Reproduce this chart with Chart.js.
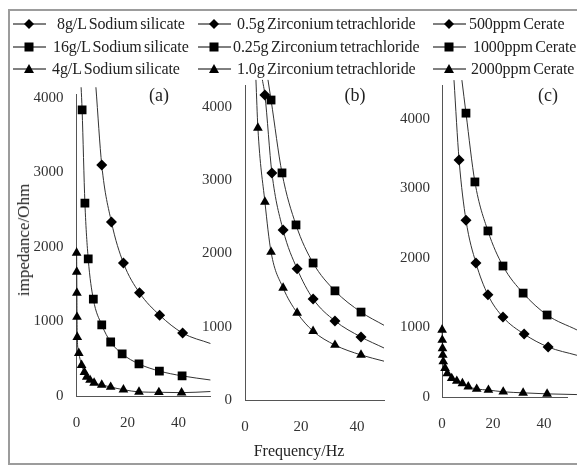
<!DOCTYPE html>
<html>
<head>
<meta charset="utf-8">
<script src="https://cdn.jsdelivr.net/npm/chart.js@4.4.0/dist/chart.umd.min.js"></script>
<style>
	html, body { margin: 0; padding: 0; background: #fff; }
	body { width: 577px; height: 466px; position: relative; overflow: hidden; font-family: 'Liberation Serif', 'Times New Roman', serif; color: #222; }
	canvas { position: absolute; left: 0; top: 0; }
	#frame { position: absolute; left: 8px; top: 9px; width: 600px; height: 452px; border: 2px solid #9c9c9c; }
	.lg-text { position: absolute; font-size: 16px; line-height: 20px; white-space: nowrap; word-spacing: -1.5px; letter-spacing: -0.1px; }
	.lg-sym { position: absolute; }
	.note { position: absolute; white-space: nowrap; transform: translate(-50%, -50%); }
</style>
</head>
<body>
<div id="frame"></div>
<canvas id="chart-a" width="577" height="466"></canvas>
<canvas id="chart-b" width="577" height="466"></canvas>
<canvas id="chart-c" width="577" height="466"></canvas>
<div id="legend"></div>
<div class="note" style="left:24px; top:240px; font-size:17px; transform: translate(-50%, -50%) rotate(-90deg);">impedance/Ohm</div>
<div class="note" style="left:299px; top:451px; font-size:16px;">Frequency/Hz</div>
<div class="note" style="left:159px; top:95px; font-size:18px;">(a)</div>
<div class="note" style="left:355px; top:95px; font-size:18px;">(b)</div>
<div class="note" style="left:548px; top:95px; font-size:18px;">(c)</div>
<script>
// series names (legend columns)
const silicateNames = ['8g/L Sodium silicate', '16g/L Sodium silicate', '4g/L Sodium silicate'];
const zirconiumNames = ['0.5g Zirconium tetrachloride', '0.25g Zirconium tetrachloride', '1.0g Zirconium tetrachloride'];
const cerateNames = ['500ppm Cerate', '1000ppm Cerate', '2000ppm Cerate'];

const xTicks = [0, 20, 40];
const yTicks = [0, 1000, 2000, 3000, 4000];

// (a) sodium silicate
const sil8Freq = [9.9, 13.7, 18.4, 24.7, 32.6, 41.6];
const sil8Imp = [3100, 2335, 1785, 1385, 1085, 845];
const sil16Freq = [2.2, 3.3, 4.6, 6.6, 9.9, 13.4, 17.9, 24.5, 32.5, 41.4];
const sil16Imp = [3840, 2590, 1840, 1300, 955, 725, 565, 430, 335, 270];
const sil4Freq = [0.05, 0.1, 0.15, 0.2, 0.3, 0.9, 2.0, 3.1, 4.0, 5.3, 6.9, 9.9, 13.4, 18.4, 24.5, 32.3, 41.2];
const sil4Imp = [1920, 1665, 1385, 1060, 790, 575, 415, 320, 255, 215, 175, 150, 120, 85, 55, 50, 45];
// where the fitted curves enter / leave the plot
const silFitHead = [[7.6, 4150], [1.8, 4150], [0, 2000]];
const silFitTail = [[52.5, 705], [52.5, 215], [52.5, 60]];

// (b) zirconium tetrachloride
const zr05Freq = [7.1, 9.6, 13.6, 18.6, 24.3, 32.1, 41.4];
const zr05Imp = [4165, 3100, 2320, 1790, 1380, 1080, 860];
const zr025Freq = [9.3, 13.2, 18.2, 24.3, 32.1, 41.4];
const zr025Imp = [4095, 3100, 2390, 1870, 1490, 1200];
const zr10Freq = [4.6, 7.1, 9.3, 13.6, 18.6, 24.3, 32.1, 41.4];
const zr10Imp = [3715, 2705, 2020, 1530, 1190, 940, 750, 615];
const zrFitHead = [[6.2, 4370], [8.2, 4370], [3.9, 4370]];
const zrFitTail = [[49.6, 710], [49.6, 1020], [49.6, 530]];

// (c) cerate
const ce500Freq = [6.7, 9.4, 13.3, 18.0, 23.9, 32.2, 41.6];
const ce500Imp = [3410, 2545, 1930, 1470, 1150, 905, 720];
const ce1000Freq = [9.4, 12.9, 18.0, 23.9, 31.8, 41.2];
const ce1000Imp = [4085, 3095, 2390, 1885, 1495, 1180];
const ce2000Freq = [0.05, 0.1, 0.2, 0.3, 0.5, 1.2, 2.1, 3.8, 5.8, 8.0, 10.3, 13.6, 18.2, 24.0, 31.8, 41.2];
const ce2000Imp = [965, 820, 700, 605, 510, 415, 340, 270, 230, 195, 150, 115, 100, 75, 60, 45];
const ceFitHead = [[4.7, 4560], [7.8, 4560], [0, 1040]];
const ceFitTail = [[52.9, 600], [52.9, 965], [52.9, 35]];

const FONT = "'Liberation Serif', 'Times New Roman', serif";
const Y_W = 50, X_H = 40, W = 577, H = 466;
const markerStyle = ['rectRot', 'rect', 'triangle'];
const markerSize = [5.5, 6.2, 5.6];

const toPts = (xs, ys) => xs.map((v, i) => ({ x: v, y: ys[i] }));

const makePanel = (id, box, xMax, yMax, names, xs, ys, head, tail, clip, yPad) => {
	let datasets = [];
	names.forEach((name, i) => {
		let pts = toPts(xs[i], ys[i]);
		datasets.push({
			label: name,
			data: pts,
			showLine: false,
			pointStyle: markerStyle[i],
			pointRadius: markerSize[i],
			pointBackgroundColor: '#000',
			pointBorderWidth: 0,
			clip: 10,
			order: 0
		});
		datasets.push({
			label: name + ' fit',
			data: [{ x: head[i][0], y: head[i][1] }, ...pts, { x: tail[i][0], y: tail[i][1] }],
			showLine: true,
			pointRadius: 0,
			borderColor: '#333',
			borderWidth: 1,
			cubicInterpolationMode: 'monotone',
			clip: clip,
			order: 1
		});
	});

	return new Chart(document.getElementById(id), {
		type: 'scatter',
		data: { datasets: datasets },
		options: {
			responsive: false,
			animation: false,
			devicePixelRatio: 1,
			events: [],
			layout: {
				autoPadding: false,
				padding: { left: box.l - Y_W, right: W - box.r, top: box.t, bottom: H - box.b - X_H }
			},
			plugins: { legend: { display: false }, tooltip: { enabled: false } },
			scales: {
				x: {
					type: 'linear', min: 0, max: xMax,
					afterFit: (s) => { s.height = X_H; },
					afterBuildTicks: (s) => { s.ticks = xTicks.map(v => ({ value: v })); },
					grid: { display: false, drawTicks: false },
					border: { color: '#555', width: 1 },
					ticks: { padding: 18, color: '#333', maxRotation: 0, font: { family: FONT, size: 15 }, callback: v => String(v) }
				},
				y: {
					type: 'linear', min: 0, max: yMax,
					afterFit: (s) => { s.width = Y_W; },
					afterBuildTicks: (s) => { s.ticks = yTicks.map(v => ({ value: v })); },
					grid: { display: false, drawTicks: false },
					border: { color: '#555', width: 1 },
					ticks: { padding: yPad, color: '#333', font: { family: FONT, size: 15 }, callback: v => String(v) }
				}
			}
		}
	});
};

makePanel('chart-a', { l: 76.5, r: 210.4, t: 94.3, b: 396 }, 52.5, 4050, silicateNames,
	[sil8Freq, sil16Freq, sil4Freq], [sil8Imp, sil16Imp, sil4Imp], silFitHead, silFitTail,
	{ left: 2, top: 7, right: 2, bottom: 2 }, 13);

makePanel('chart-b', { l: 245, r: 384, t: 85, b: 400 }, 49.6, 4300, zirconiumNames,
	[zr05Freq, zr025Freq, zr10Freq], [zr05Imp, zr025Imp, zr10Imp], zrFitHead, zrFitTail,
	{ left: 2, top: 6, right: 2, bottom: 2 }, 13);

makePanel('chart-c', { l: 442, r: 567, t: 85, b: 397 }, 49, 4490, cerateNames,
	[ce500Freq, ce1000Freq, ce2000Freq], [ce500Imp, ce1000Imp, ce2000Imp], ceFitHead, ceFitTail,
	{ left: 2, top: 6, right: 11, bottom: 2 }, 12);

// legend, three columns
const legendCols = [silicateNames, zirconiumNames, cerateNames];
const legendLineX = [13, 198, 433];
const legendTextX = [[57, 53, 52], [237, 233, 237], [469, 473, 471]];
const legendRowY = [23.5, 46.5, 68.5];
const symbolSvg = [
	'<polygon points="11,7 16,2 21,7 16,12" fill="#000"/>',
	'<rect x="11.5" y="2.5" width="9" height="9" fill="#000"/>',
	'<polygon points="16,2 21,11 11,11" fill="#000"/>'
];
const legend = document.getElementById('legend');
legendCols.forEach((col, c) => {
	col.forEach((name, r) => {
		let sym = document.createElement('div');
		sym.className = 'lg-sym';
		sym.style.left = legendLineX[c] + 'px';
		sym.style.top = (legendRowY[r] - 7) + 'px';
		sym.innerHTML = '<svg width="34" height="14"><line x1="0" y1="7" x2="33" y2="7" stroke="#000" stroke-width="1"/>' + symbolSvg[r] + '</svg>';
		legend.appendChild(sym);

		let txt = document.createElement('div');
		txt.className = 'lg-text';
		txt.style.left = legendTextX[c][r] + 'px';
		txt.style.top = (legendRowY[r] - 10) + 'px';
		txt.textContent = name;
		legend.appendChild(txt);
	});
});
</script>
</body>
</html>
